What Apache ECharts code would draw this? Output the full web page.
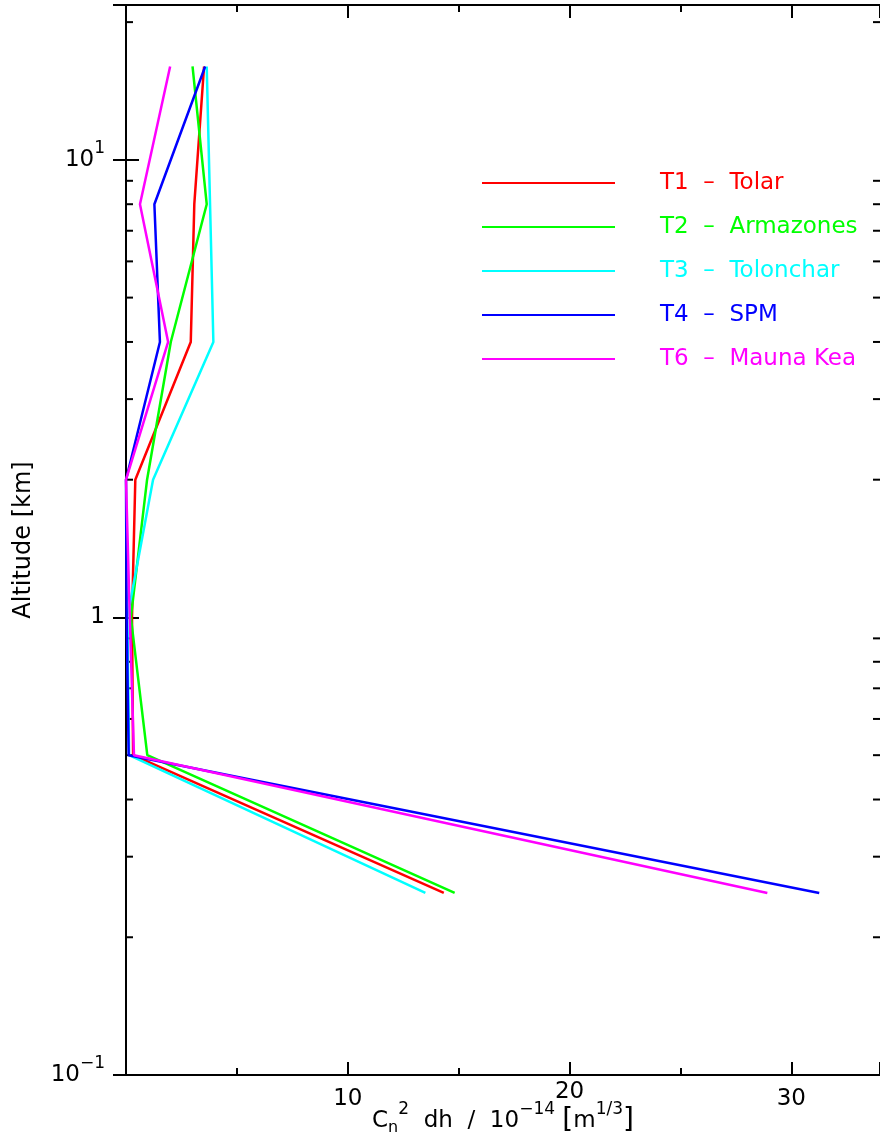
<!DOCTYPE html>
<html><head><meta charset="utf-8">
<script src="https://cdn.jsdelivr.net/npm/echarts@6/dist/echarts.min.js"></script>
<style>html,body{margin:0;padding:0;background:#fff}#c{width:880px;height:1145px}</style>
</head><body><div id="c"></div>
<script>
// ---- data ----
const altitudes = [0.25, 0.5, 1, 2, 4, 8, 16];          // km
const seriesNames = ['T1  –  Tolar', 'T2  –  Armazones', 'T3  –  Tolonchar', 'T4  –  SPM', 'T6  –  Mauna Kea'];
const seriesColors = ['#ff0000', '#00ff00', '#00ffff', '#0000ff', '#ff00ff'];
const t1Tolar     = [14.33, 0.32, 0.27, 0.42, 2.92, 3.08, 3.52];
const t2Armazones = [14.82, 0.96, 0.22, 0.95, 2.02, 3.64, 3.00];
const t3Tolonchar = [13.50, 0.14, 0.06, 1.22, 3.94, 3.79, 3.64];
const t4SPM       = [31.26, 0.12, 0.03, 0.00, 1.53, 1.28, 3.57];
const t6MaunaKea  = [28.92, 0.36, 0.17, 0.00, 1.90, 0.63, 1.99];
const xTickLabels = [10, 20, 30];
const yMinorTicks = [0.2, 0.3, 0.4, 0.5, 0.6, 0.7, 0.8, 0.9, 2, 3, 4, 5, 6, 7, 8, 9, 20];

const allSeries = [t1Tolar, t2Armazones, t3Tolonchar, t4SPM, t6MaunaKea];
const FONT = 'DejaVu Sans';

const supRich = {
  m: {fontSize: 23, lineHeight: 23, fontFamily: FONT, color: '#000'},
  s: {fontSize: 17, lineHeight: 17, padding: [0, 0, 22, 0], fontFamily: FONT, color: '#000'},
  d: {fontSize: 16, lineHeight: 16, padding: [14, 0, 0, 0], fontFamily: FONT, color: '#000'},
  b: {fontSize: 28, lineHeight: 28, fontFamily: FONT, color: '#000'},
  n: {fontSize: 23, lineHeight: 23, fontFamily: FONT, color: '#000'},
  r: {fontSize: 23, lineHeight: 9, fontFamily: FONT, color: '#000'}
};

const chart = echarts.init(document.getElementById('c'), null, {renderer: 'canvas'});

const tickStyle = {color: '#000', width: 2};

const lineSeries = allSeries.map((vals, i) => ({
  name: seriesNames[i],
  type: 'line',
  xAxisIndex: 0, yAxisIndex: 0,
  symbol: 'none',
  clip: false,
  silent: true,
  lineStyle: {color: seriesColors[i], width: 2.5},
  itemStyle: {color: seriesColors[i]},
  data: altitudes.map((a, k) => [vals[k], a])
}));

const minorTickSeries = {
  type: 'custom',
  xAxisIndex: 0, yAxisIndex: 0,
  silent: true,
  clip: false,
  data: yMinorTicks.map(v => [0, v]),
  renderItem: (params, api) => {
    const p = api.coord([0, api.value(1)]);
    const cs = params.coordSys;
    const st = {stroke: '#000', lineWidth: 2};
    return {type: 'group', children: [
      {type: 'line', shape: {x1: cs.x, y1: p[1], x2: cs.x + 7, y2: p[1]}, style: st},
      {type: 'line', shape: {x1: cs.x + cs.width, y1: p[1], x2: cs.x + cs.width - 7, y2: p[1]}, style: st}
    ]};
  }
};

function yLabel(v) {
  const e = Math.round(Math.log10(v));
  if (Math.abs(Math.log10(v) - e) > 1e-6) return '';
  if (e === 0) return '{n|1}';
  return '{m|10}{s|' + (e < 0 ? '−' + (-e) : e) + '}';
}

const xCommon = {
  type: 'value', min: 0, max: 34, interval: 10,
  axisLine: {show: true, onZero: false, lineStyle: tickStyle},
  axisTick: {show: true, inside: true, length: 13, lineStyle: tickStyle},
  minorTick: {show: true, splitNumber: 2, length: 7, lineStyle: tickStyle},
  splitLine: {show: false},
  minorSplitLine: {show: false}
};

const yCommon = {
  type: 'log', logBase: 10, min: 0.1, max: 21.8,
  axisLine: {show: true, onZero: false, lineStyle: tickStyle},
  axisTick: {show: true, inside: true, length: 13, lineStyle: tickStyle},
  splitLine: {show: false},
  minorTick: {show: false}
};

chart.setOption({
  animation: false,
  backgroundColor: '#fff',
  grid: {left: 126, right: 0, top: 5, bottom: 70, containLabel: false, outerBoundsMode: 'none'},
  legend: {
    orient: 'vertical', left: 482, top: 171, padding: 0,
    icon: 'rect', itemWidth: 133, itemHeight: 2, itemGap: 20,
    selectedMode: false,
    textStyle: {fontFamily: FONT, fontSize: 23, lineHeight: 24, padding: [0, 0, 0, 40]},
    data: seriesNames.map((n, i) => ({name: n, textStyle: {color: seriesColors[i]}}))
  },
  xAxis: [
    Object.assign({}, xCommon, {
      position: 'bottom',
      axisLabel: {
        show: true, margin: 13, showMinLabel: false, showMaxLabel: false,
        fontFamily: FONT, fontSize: 23, color: '#000',
        formatter: v => xTickLabels.includes(v) ? (v === 20 ? '{r|20}' : '{n|' + v + '}') : '',
        rich: supRich
      },
      name: 'C{d|n}{s|2}  dh  /  10{s|−14} {b|[}m{s|1/3}{b|]}',
      nameLocation: 'middle', nameGap: 32, nameMoveOverlap: false,
      nameTextStyle: {fontFamily: FONT, fontSize: 23, color: '#000', rich: supRich}
    }),
    Object.assign({}, xCommon, {position: 'top', axisLabel: {show: false}})
  ],
  yAxis: [
    Object.assign({}, yCommon, {
      position: 'left',
      axisLabel: {show: true, margin: 21, fontFamily: FONT, fontSize: 23, color: '#000', formatter: yLabel, rich: supRich},
      name: 'Altitude [km]', nameLocation: 'middle', nameGap: 90, nameRotate: 90, nameMoveOverlap: false,
      nameTextStyle: {fontFamily: FONT, fontSize: 24, color: '#000'}
    }),
    Object.assign({}, yCommon, {position: 'right', axisLine: {show: false}, axisLabel: {show: false}})
  ],
  series: lineSeries.concat([minorTickSeries])
});
</script></body></html>
